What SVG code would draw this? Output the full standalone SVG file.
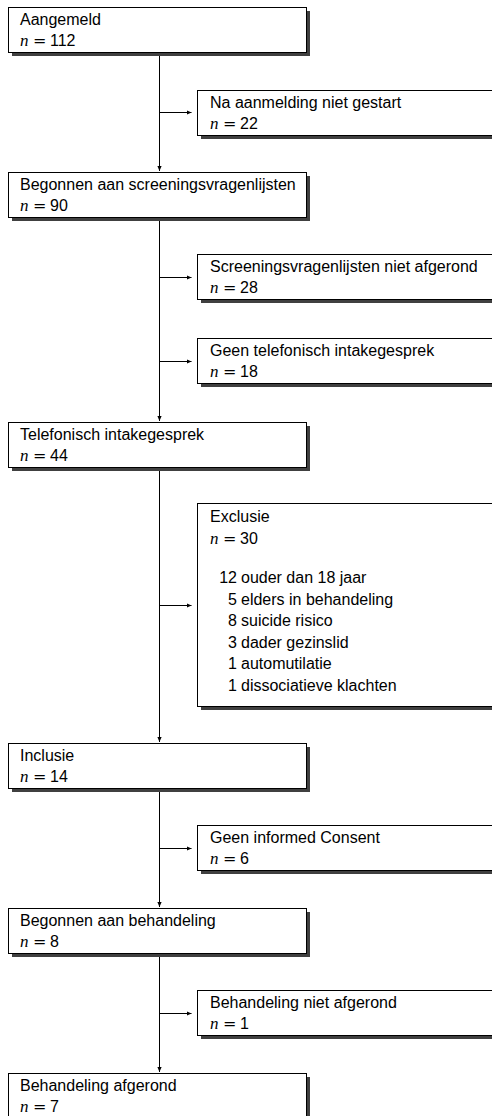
<svg xmlns="http://www.w3.org/2000/svg" width="492" height="1116" viewBox="0 0 492 1116">
<defs>
<style>
.box{fill:#fff;stroke:#000;stroke-width:1}
.sh{fill:#404040}
.t{font-family:"Liberation Sans",Arial,sans-serif;font-size:16px;fill:#000}
.m{font-family:"Liberation Serif","Times New Roman",serif;font-style:italic;font-size:17px}
.eq{font-family:"DejaVu Serif",serif;font-size:16px}
.ln{stroke:#000;stroke-width:1;fill:none;marker-end:url(#ah)}
</style>
<marker id="ah" markerWidth="6" markerHeight="6" refX="5" refY="3" orient="auto" markerUnits="userSpaceOnUse"><path d="M0,0.9 L5,3 L0,5.1 z" fill="#000"/></marker>
</defs>
<rect width="492" height="1116" fill="#fff"/>
<g id="connectors">
<path class="ln" d="M159.5,52.5 V171"/>
<path class="ln" d="M159.5,217.5 V421"/>
<path class="ln" d="M159.5,467.5 V742"/>
<path class="ln" d="M159.5,788.5 V907"/>
<path class="ln" d="M159.5,953.5 V1072"/>
<path class="ln" d="M159.5,112.5 H191.5"/>
<path class="ln" d="M159.5,277.5 H191.5"/>
<path class="ln" d="M159.5,361.5 H191.5"/>
<path class="ln" d="M159.5,605.5 H191.5"/>
<path class="ln" d="M159.5,848.5 H191.5"/>
<path class="ln" d="M159.5,1013.5 H191.5"/>
</g>
<g id="aangemeld">
<rect class="sh" x="12" y="11" width="298" height="45"/>
<rect class="box" x="8.5" y="7.5" width="298" height="45"/>
<text class="t" x="20" y="25">Aangemeld</text>
<text class="m" x="20" y="46">n</text><text class="eq" x="33" y="46">=</text><text class="t" x="50" y="46">112</text>
</g>
<g id="na-aanmelding">
<rect class="sh" x="201" y="94" width="320" height="45"/>
<rect class="box" x="197.5" y="90.5" width="320" height="45"/>
<text class="t" x="210" y="108">Na aanmelding niet gestart</text>
<text class="m" x="210" y="129">n</text><text class="eq" x="223" y="129">=</text><text class="t" x="240" y="129">22</text>
</g>
<g id="begonnen-screening">
<rect class="sh" x="12" y="176" width="298" height="45"/>
<rect class="box" x="8.5" y="172.5" width="298" height="45"/>
<text class="t" x="20" y="190">Begonnen aan screeningsvragenlijsten</text>
<text class="m" x="20" y="211">n</text><text class="eq" x="33" y="211">=</text><text class="t" x="50" y="211">90</text>
</g>
<g id="screening-niet-afgerond">
<rect class="sh" x="201" y="258" width="320" height="45"/>
<rect class="box" x="197.5" y="254.5" width="320" height="45"/>
<text class="t" x="210" y="272">Screeningsvragenlijsten niet afgerond</text>
<text class="m" x="210" y="293">n</text><text class="eq" x="223" y="293">=</text><text class="t" x="240" y="293">28</text>
</g>
<g id="geen-telefonisch">
<rect class="sh" x="201" y="342" width="320" height="45"/>
<rect class="box" x="197.5" y="338.5" width="320" height="45"/>
<text class="t" x="210" y="356">Geen telefonisch intakegesprek</text>
<text class="m" x="210" y="377">n</text><text class="eq" x="223" y="377">=</text><text class="t" x="240" y="377">18</text>
</g>
<g id="telefonisch">
<rect class="sh" x="12" y="426" width="298" height="45"/>
<rect class="box" x="8.5" y="422.5" width="298" height="45"/>
<text class="t" x="20" y="440">Telefonisch intakegesprek</text>
<text class="m" x="20" y="461">n</text><text class="eq" x="33" y="461">=</text><text class="t" x="50" y="461">44</text>
</g>
<g id="exclusie">
<rect class="sh" x="201" y="507" width="320" height="203"/>
<rect class="box" x="197.5" y="503.5" width="320" height="203"/>
<text class="t" x="210" y="522">Exclusie</text>
<text class="m" x="210" y="544">n</text><text class="eq" x="223" y="544">=</text><text class="t" x="240" y="544">30</text>
<text class="t" x="237" y="583" text-anchor="end">12</text><text class="t" x="241" y="583">ouder dan 18 jaar</text>
<text class="t" x="237" y="604.6" text-anchor="end">5</text><text class="t" x="241" y="604.6">elders in behandeling</text>
<text class="t" x="237" y="626.2" text-anchor="end">8</text><text class="t" x="241" y="626.2">suicide risico</text>
<text class="t" x="237" y="647.8" text-anchor="end">3</text><text class="t" x="241" y="647.8">dader gezinslid</text>
<text class="t" x="237" y="669.4" text-anchor="end">1</text><text class="t" x="241" y="669.4">automutilatie</text>
<text class="t" x="237" y="691" text-anchor="end">1</text><text class="t" x="241" y="691">dissociatieve klachten</text>
</g>
<g id="inclusie">
<rect class="sh" x="12" y="747" width="298" height="45"/>
<rect class="box" x="8.5" y="743.5" width="298" height="45"/>
<text class="t" x="20" y="761">Inclusie</text>
<text class="m" x="20" y="782">n</text><text class="eq" x="33" y="782">=</text><text class="t" x="50" y="782">14</text>
</g>
<g id="geen-informed">
<rect class="sh" x="201" y="829" width="320" height="45"/>
<rect class="box" x="197.5" y="825.5" width="320" height="45"/>
<text class="t" x="210" y="843">Geen informed Consent</text>
<text class="m" x="210" y="864">n</text><text class="eq" x="223" y="864">=</text><text class="t" x="240" y="864">6</text>
</g>
<g id="begonnen-behandeling">
<rect class="sh" x="12" y="912" width="298" height="45"/>
<rect class="box" x="8.5" y="908.5" width="298" height="45"/>
<text class="t" x="20" y="926">Begonnen aan behandeling</text>
<text class="m" x="20" y="947">n</text><text class="eq" x="33" y="947">=</text><text class="t" x="50" y="947">8</text>
</g>
<g id="behandeling-niet-afgerond">
<rect class="sh" x="201" y="994" width="320" height="45"/>
<rect class="box" x="197.5" y="990.5" width="320" height="45"/>
<text class="t" x="210" y="1008">Behandeling niet afgerond</text>
<text class="m" x="210" y="1029">n</text><text class="eq" x="223" y="1029">=</text><text class="t" x="240" y="1029">1</text>
</g>
<g id="behandeling-afgerond">
<rect class="sh" x="12" y="1077" width="298" height="45"/>
<rect class="box" x="8.5" y="1073.5" width="298" height="45"/>
<text class="t" x="20" y="1091">Behandeling afgerond</text>
<text class="m" x="20" y="1112">n</text><text class="eq" x="33" y="1112">=</text><text class="t" x="50" y="1112">7</text>
</g>
</svg>
